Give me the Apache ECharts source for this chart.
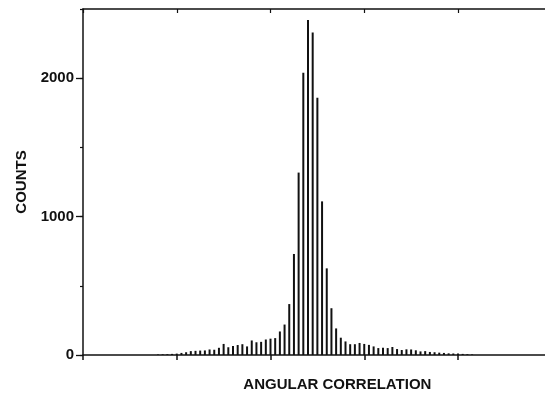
<!DOCTYPE html>
<html>
<head>
<meta charset="utf-8">
<script src="https://cdn.jsdelivr.net/npm/echarts@6/dist/echarts.min.js"></script>
<style>
  html, body { margin: 0; padding: 0; background: #fff; }
  #main { width: 545px; height: 400px; }
</style>
</head>
<body>
<div id="main"></div>
<script>
// channel number of each bar (x) and counts in it
var channels = [];
for (var c = 16; c <= 83; c++) channels.push(c);
var counts = [
  3, 5, 6, 8, 10, 15, 20, 28, 30, 32, 33, 40, 38, 52, 80, 56, 65, 72, 78, 62,
  105, 92, 95, 112, 118, 122, 170, 220, 368, 730, 1318, 2040, 2420, 2330, 1858, 1110, 626, 338, 192, 125,
  98, 78, 78, 87, 80, 73, 62, 50, 53, 50, 58, 43, 36, 41, 40, 34, 26, 28, 22, 20,
  17, 15, 12, 11, 10, 8, 6, 4
];

var ink = '#111';
var font = '"Liberation Sans", Arial, sans-serif';

var myChart = echarts.init(document.getElementById('main'));

// main grid (bars, labels, major ticks) is taller than the frame so that
// its last tick (3000) falls off the canvas; the frame grid draws the box
var option = {
  animation: false,
  backgroundColor: '#fff',
  grid: [
    { left: 83, right: -6.75, top: -60.2, bottom: 45, containLabel: false, outerBoundsMode: 'none' },
    { left: 83, right: -6.75, top: 9, bottom: 45, containLabel: false, outerBoundsMode: 'none' }
  ],
  xAxis: [
    {
      gridIndex: 0, type: 'value', position: 'bottom', min: 0, max: 100, interval: 20,
      name: 'ANGULAR CORRELATION', nameLocation: 'middle', nameGap: 22,
      nameTextStyle: { color: ink, fontFamily: font, fontWeight: 'bold', fontSize: 15, padding: [0, 0, 0, 40] },
      axisLine: { onZero: false, lineStyle: { color: ink, width: 1.5 } },
      axisTick: { show: true, length: 5, lineStyle: { color: ink, width: 1.5 } },
      axisLabel: { show: false },
      splitLine: { show: false }
    },
    {
      gridIndex: 1, type: 'value', position: 'top', min: 0, max: 100, interval: 20,
      axisLine: { show: true, onZero: false, lineStyle: { color: ink, width: 1.5 } },
      axisTick: { show: true, inside: true, length: 4, lineStyle: { color: ink, width: 1.2 } },
      axisLabel: { show: false },
      splitLine: { show: false }
    }
  ],
  yAxis: [
    {
      gridIndex: 0, type: 'value', min: 0, max: 3000, interval: 1000,
      axisLine: { show: false, onZero: false },
      axisTick: { show: true, length: 7, lineStyle: { color: ink, width: 1.3 } },
      axisLabel: {
        color: ink, fontFamily: font, fontWeight: 'bold', fontSize: 15, margin: 9,
        formatter: function (v) { return String(v); }
      },
      splitLine: { show: false }
    },
    {
      gridIndex: 1, type: 'value', min: 0, max: 2500, interval: 500,
      name: 'COUNTS', nameLocation: 'middle', nameGap: 54, nameRotate: 90,
      nameTextStyle: { color: ink, fontFamily: font, fontWeight: 'bold', fontSize: 15 },
      axisLine: { show: true, onZero: false, lineStyle: { color: ink, width: 1.5 } },
      axisTick: { show: true, length: 3, lineStyle: { color: ink, width: 1.2 } },
      axisLabel: { show: false },
      splitLine: { show: false }
    }
  ],
  series: [
    {
      type: 'bar',
      xAxisIndex: 0,
      yAxisIndex: 0,
      barWidth: 2,
      itemStyle: { color: ink },
      data: channels.map(function (ch, i) { return [ch, counts[i]]; })
    }
  ]
};

myChart.setOption(option);
</script>
</body>
</html>
